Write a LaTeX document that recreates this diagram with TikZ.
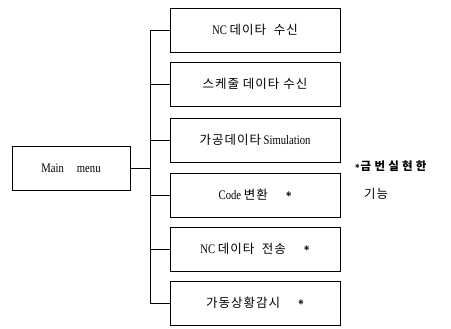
\documentclass[tikz,border=0pt]{standalone}
\usepackage{fontspec}
\setmainfont[FakeStretch=0.82]{Liberation Serif}
\newfontfamily\krfont[LetterSpace=8]{Noto Sans CJK KR}
\newcommand\kor[1]{{\krfont\fontsize{12.5}{14}\selectfont #1}}
\newcommand\starmark{\raisebox{-0.25ex}{\bfseries *}}
\begin{document}
\begin{tikzpicture}[x=1pt,y=-1pt,
  menubox/.style={draw,line width=0.9pt,minimum width=170pt,minimum height=44pt,
    inner sep=0pt,font=\fontsize{13}{15}\selectfont},
  mainbox/.style={draw,line width=0.9pt,minimum width=118pt,minimum height=44pt,
    inner sep=0pt,font=\fontsize{13}{15}\selectfont},
  link/.style={line width=0.8pt}]
\useasboundingbox (0,0) rectangle (451,329);

% main menu
\node[mainbox] (main) at (71,168) {Main\hspace{1em}menu};

% sub menus
\node[menubox] (m1) at (255,30)  {NC \kor{데이타\hspace{0.3em} 수신}};
\node[menubox] (m2) at (255,84)  {\kor{스케줄 데이타 수신}};
\node[menubox] (m3) at (255,140) {\kor{가공데이타} Simulation};
\node[menubox] (m4) at (255,195) {Code \kor{변환}\hspace{1.4em}\starmark};
\node[menubox] (m5) at (255,249) {NC \kor{데이타\hspace{0.3em} 전송}\hspace{1.4em}\starmark};
\node[menubox] (m6) at (255,303) {\kor{가동상황감시}\hspace{1.4em}\starmark};

% tree connectors
\coordinate (trunk) at (150,0);
\draw[link] (main.east) -- (main.east -| trunk);
\draw[link] (m1.west) -- (m1.west -| trunk) -- (m6.west -| trunk) -- (m6.west);
\foreach \n in {m2,m3,m4,m5}
  \draw[link] (\n.west) -- (\n.west -| trunk);

% footnote
\node[anchor=west,inner sep=0pt] (note1) at (355,166)
  {\fontsize{11}{12}\selectfont\starmark\hspace{1pt}\kor{\addfontfeatures{LetterSpace=28}\fontsize{11.5}{13}\selectfont\bfseries 금번실현한}};
\node[anchor=west,inner sep=0pt] (note2) at (364,194) {\kor{기능}};
\end{tikzpicture}
\end{document}
